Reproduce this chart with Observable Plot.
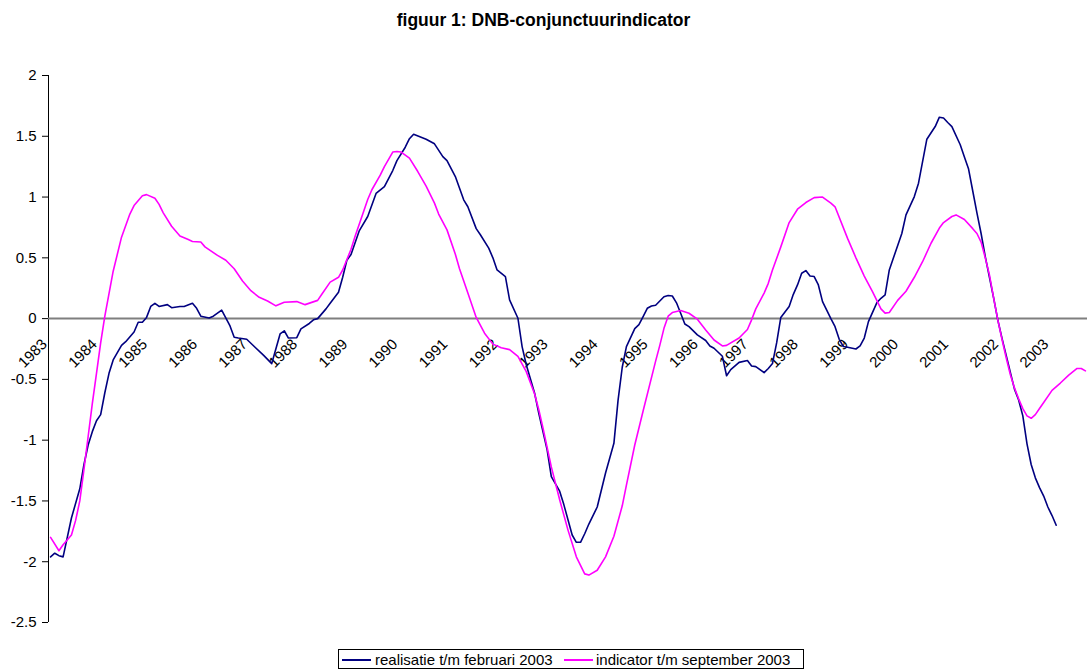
<!DOCTYPE html>
<html>
<head>
<meta charset="utf-8">
<script src="https://cdn.jsdelivr.net/npm/d3@7"></script>
<script src="https://cdn.jsdelivr.net/npm/@observablehq/plot@0.6"></script>
<style>
  html, body { margin: 0; padding: 0; background: #fff; }
  body { font-family: "Liberation Sans", Arial, sans-serif; width: 1087px; height: 670px; position: relative; overflow: hidden; }
  #title { position: absolute; left: 0; top: 0; width: 1087px; height: 40px; line-height: 40px; text-align: center; font-weight: bold; font-size: 17.5px; color: #000; }
  #chart { position: absolute; left: 0; top: 40px; }
  #legend { position: absolute; left: 338px; top: 649px; width: 466px; height: 20px; border: 1px solid #000; box-sizing: border-box; font-size: 15px; color: #000; background: #fff; }
  .item { position: absolute; top: 0; height: 20px; line-height: 19px; white-space: nowrap; }
  .swatch { position: absolute; height: 2px; width: 29px; top: 9px; }
</style>
</head>
<body>
<div id="title"></div>
<div id="chart"></div>
<div id="legend"></div>
<script>
// ---- data (month index: 0 = January 1983) ----
const chartTitle = "figuur 1: DNB-conjunctuurindicator";
const seriesNames = ["realisatie t/m februari 2003", "indicator t/m september 2003"];
const seriesColors = ["#000080", "#FF00FF"];
const firstYear = 1983;
const yearLabels = ["1983","1984","1985","1986","1987","1988","1989","1990","1991","1992","1993","1994","1995","1996","1997","1998","1999","2000","2001","2002","2003"];
const yTicks = [2, 1.5, 1, 0.5, 0, -0.5, -1, -1.5, -2, -2.5];
const monthCount = 249; // Jan 1983 .. Sep 2003

const realMonths = [0,1,2,3,5,7,8,9,10,11,12,13,14,15,17,18,20,21,22,23,24,25,26,28,29,31,32,34,35,36,38,39,41,43,44,45,47,49,51,53,55,56,57,59,60,62,63,64,66,67,69,70,71,72,74,76,78,80,82,83,85,86,87,90,92,94,95,97,99,100,102,103,105,106,107,109,110,112,113,114,116,117,119,120,122,123,125,126,127,128,129,131,133,135,136,137,138,140,141,142,143,144,145,147,148,149,150,151,152,153,155,157,158,159,161,162,163,165,167,168,169,171,172,173,174,175,177,178,179,180,181,182,183,184,185,187,188,189,190,191,193,194,195,196,198,199,200,201,202,204,205,207,208,210,212,213,214,215,216,218,219,220,221,222,223,224,225,226,227,228,229,230,231,232,233,234,235,236,237,238,239,240,241];
const realValues = [-1.96,-1.93,-1.95,-1.96,-1.64,-1.40,-1.20,-1.04,-0.93,-0.84,-0.79,-0.61,-0.45,-0.34,-0.22,-0.19,-0.11,-0.03,-0.03,0.01,0.10,0.126,0.10,0.115,0.09,0.10,0.10,0.126,0.085,0.02,0.005,0.02,0.07,-0.06,-0.154,-0.16,-0.17,-0.236,-0.30,-0.37,-0.126,-0.10,-0.16,-0.157,-0.085,-0.04,-0.01,0.0,0.08,0.126,0.217,0.34,0.48,0.527,0.724,0.84,1.03,1.086,1.218,1.30,1.41,1.48,1.517,1.476,1.438,1.333,1.30,1.169,0.977,0.92,0.74,0.69,0.58,0.50,0.40,0.346,0.154,0.003,-0.23,-0.38,-0.614,-0.78,-1.08,-1.30,-1.42,-1.53,-1.78,-1.84,-1.84,-1.77,-1.69,-1.55,-1.27,-1.026,-0.67,-0.40,-0.23,-0.082,-0.05,0.016,0.085,0.104,0.11,0.18,0.19,0.186,0.13,0.044,-0.044,-0.066,-0.134,-0.18,-0.225,-0.244,-0.31,-0.47,-0.42,-0.36,-0.345,-0.39,-0.395,-0.444,-0.41,-0.37,-0.20,0.01,0.10,0.20,0.277,0.373,0.395,0.35,0.346,0.277,0.14,0.0,-0.066,-0.17,-0.23,-0.236,-0.25,-0.225,-0.16,-0.025,0.13,0.167,0.195,0.40,0.50,0.70,0.853,1.004,1.114,1.476,1.58,1.657,1.65,1.613,1.58,1.43,1.33,1.23,1.05,0.87,0.70,0.51,0.34,0.17,-0.01,-0.16,-0.30,-0.44,-0.58,-0.67,-0.80,-1.03,-1.20,-1.31,-1.39,-1.46,-1.55,-1.62,-1.70];

const indMonths = [0,2,3,5,6,7,8,9,10,11,12,13,15,17,19,20,22,23,25,26,27,29,31,33,34,36,37,40,42,44,46,48,50,52,54,56,59,61,64,65,67,69,70,72,73,75,76,77,79,80,82,83,84,86,88,90,92,93,95,97,98,100,102,104,106,108,110,112,114,116,117,118,120,122,124,126,128,129,131,133,135,137,138,140,142,145,146,147,148,149,151,153,155,157,159,161,162,165,167,168,169,171,172,173,175,177,179,181,183,185,187,188,191,193,195,197,199,200,201,203,205,207,209,211,213,214,216,217,219,221,222,223,224,225,226,227,228,229,230,231,232,233,234,235,236,237,238,240,242,244,246,247,248];
const indValues = [-1.80,-1.91,-1.86,-1.78,-1.66,-1.50,-1.24,-0.97,-0.70,-0.45,-0.20,0.02,0.39,0.67,0.86,0.93,1.01,1.02,0.99,0.94,0.87,0.76,0.68,0.65,0.635,0.63,0.59,0.52,0.48,0.41,0.31,0.23,0.175,0.145,0.105,0.135,0.14,0.115,0.15,0.20,0.30,0.34,0.40,0.57,0.68,0.88,0.98,1.06,1.18,1.25,1.37,1.375,1.37,1.32,1.21,1.09,0.95,0.86,0.73,0.53,0.41,0.21,0.01,-0.12,-0.21,-0.24,-0.255,-0.31,-0.436,-0.62,-0.75,-0.90,-1.22,-1.49,-1.74,-1.96,-2.10,-2.11,-2.07,-1.96,-1.79,-1.54,-1.37,-1.04,-0.76,-0.35,-0.22,-0.08,0.02,0.05,0.066,0.044,-0.005,-0.093,-0.176,-0.225,-0.22,-0.16,-0.09,-0.01,0.08,0.21,0.29,0.40,0.59,0.79,0.90,0.955,0.995,1.0,0.95,0.92,0.66,0.50,0.35,0.22,0.08,0.045,0.05,0.15,0.225,0.34,0.47,0.62,0.745,0.79,0.84,0.853,0.815,0.74,0.70,0.63,0.50,0.36,0.17,-0.01,-0.17,-0.32,-0.46,-0.57,-0.66,-0.74,-0.80,-0.82,-0.79,-0.74,-0.69,-0.59,-0.53,-0.465,-0.41,-0.41,-0.43];

// ---- build tables ----
const realisatie = realMonths.map((m, i) => ({month: m, value: realValues[i], series: seriesNames[0]}));
const indicator = indMonths.map((m, i) => ({month: m, value: indValues[i], series: seriesNames[1]}));
const years = yearLabels.map(y => ({label: y, month: (+y - firstYear) * 12 - 0.5}));

document.getElementById("title").textContent = chartTitle;

const font = "'Liberation Sans', Arial, sans-serif";
const chart = Plot.plot({
  width: 1087,
  height: 600,
  marginLeft: 48,
  marginRight: 0,
  marginTop: 35,
  marginBottom: 18,
  style: {fontFamily: font, fontSize: "15px", background: "white", color: "black", overflow: "visible"},
  x: {domain: [-0.5, monthCount - 0.5], axis: null},
  y: {domain: [-2.5, 2], axis: null},
  marks: [
    Plot.axisY({ticks: yTicks, tickSize: 6, tickPadding: 6, tickFormat: d => String(d), fontSize: 15, stroke: "black", label: null}),
    Plot.ruleX([-0.5], {stroke: "black", strokeWidth: 1}),
    Plot.ruleY([0], {stroke: "#7f7f7f", strokeWidth: 2}),
    Plot.text(years, {x: "month", y: () => 0, text: "label", rotate: -45, textAnchor: "end", dx: -4, dy: 23, fontSize: 15, fill: "black"}),
    Plot.line(realisatie, {x: "month", y: "value", stroke: seriesColors[0], strokeWidth: 1.6}),
    Plot.line(indicator, {x: "month", y: "value", stroke: seriesColors[1], strokeWidth: 1.6})
  ]
});
document.getElementById("chart").appendChild(chart);

// ---- legend ----
const legend = document.getElementById("legend");
const legendLayout = [{sw: 3, tx: 36}, {sw: 225, tx: 257}];
seriesNames.forEach((name, i) => {
  const sw = document.createElement("div");
  sw.className = "swatch";
  sw.style.left = legendLayout[i].sw + "px";
  sw.style.background = seriesColors[i];
  legend.appendChild(sw);
  const t = document.createElement("div");
  t.className = "item";
  t.style.left = legendLayout[i].tx + "px";
  t.textContent = name;
  legend.appendChild(t);
});
</script>
</body>
</html>
